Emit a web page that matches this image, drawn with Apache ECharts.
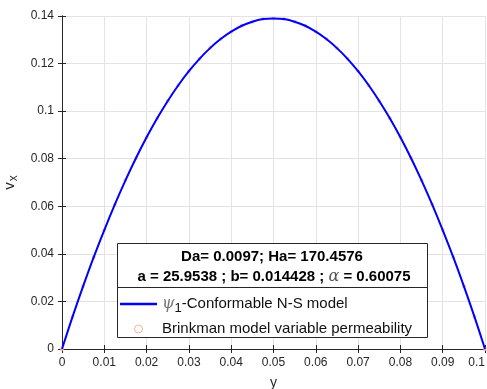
<!DOCTYPE html>
<html>
<head>
<meta charset="utf-8">
<script src="https://cdn.jsdelivr.net/npm/echarts@6/dist/echarts.min.js"></script>
<style>html,body{margin:0;padding:0;background:#fff}#c{width:487px;height:389px}</style>
</head>
<body>
<div id="c"></div>
<script>
var yPos = [0, 0.0025, 0.005, 0.0075, 0.01, 0.0125, 0.015, 0.0175, 0.02, 0.0225, 0.025, 0.0275, 0.03, 0.0325, 0.035, 0.0375, 0.04, 0.0425, 0.045, 0.0475, 0.05,
            0.0525, 0.055, 0.0575, 0.06, 0.0625, 0.065, 0.0675, 0.07, 0.0725, 0.075, 0.0775, 0.08, 0.0825, 0.085, 0.0875, 0.09, 0.0925, 0.095, 0.0975, 0.1];
var vxConformable = [0, 0.0136, 0.0264, 0.0386, 0.0500, 0.0608, 0.0709, 0.0803, 0.0890, 0.0970, 0.1043, 0.1109, 0.1168, 0.1220, 0.1265, 0.1303, 0.1334, 0.1359, 0.1376, 0.1387, 0.1390,
                     0.1387, 0.1376, 0.1359, 0.1334, 0.1303, 0.1265, 0.1220, 0.1168, 0.1109, 0.1043, 0.0970, 0.0890, 0.0803, 0.0709, 0.0608, 0.0500, 0.0386, 0.0264, 0.0136, 0];
var vxBrinkman = [0, 0.0136, 0.0264, 0.0386, 0.0500, 0.0608, 0.0709, 0.0803, 0.0890, 0.0970, 0.1043, 0.1109, 0.1168, 0.1220, 0.1265, 0.1303, 0.1334, 0.1359, 0.1376, 0.1387, 0.1390,
                  0.1387, 0.1376, 0.1359, 0.1334, 0.1303, 0.1265, 0.1220, 0.1168, 0.1109, 0.1043, 0.0970, 0.0890, 0.0803, 0.0709, 0.0608, 0.0500, 0.0386, 0.0264, 0.0136, 0];
var xTicks = ['0', '0.01', '0.02', '0.03', '0.04', '0.05', '0.06', '0.07', '0.08', '0.09', '0.1'];
var yTicks = ['0', '0.02', '0.04', '0.06', '0.08', '0.1', '0.12', '0.14'];
var seriesNames = ['psi1', 'Brinkman model variable permeability'];
var infoLine1 = 'Da= 0.0097; Ha= 170.4576';
var infoLine2a = 'a = 25.9538 ; b= 0.014428 ; ';
var infoLine2b = 'α';
var infoLine2c = ' = 0.60075';

function pair(xs, ys) { return xs.map(function (x, i) { return [x, ys[i]]; }); }
function fmt(list, step) { return function (v) { var i = Math.round(v / step); return list[i] !== undefined ? list[i] : ''; }; }

var axisColor = '#262626';
var chart = echarts.init(document.getElementById('c'), null, { renderer: 'canvas' });
var baseX = {
  type: 'value', min: 0, max: 0.1, interval: 0.01,
  axisLine: { show: true, lineStyle: { color: axisColor, width: 1 } },
  axisTick: { show: true, inside: true, length: 4, lineStyle: { color: axisColor } },
  splitLine: { show: false }
};
var baseY = {
  type: 'value', min: 0, max: 0.14, interval: 0.02,
  axisLine: { show: true, lineStyle: { color: axisColor, width: 1 } },
  axisTick: { show: true, inside: true, length: 4, lineStyle: { color: axisColor } },
  splitLine: { show: false }
};
var option = {
  animation: false,
  backgroundColor: '#fff',
  grid: { left: 62, top: 16, right: 2, bottom: 40, containLabel: false, outerBoundsMode: 'none' },
  xAxis: [
    Object.assign({}, baseX, {
      position: 'bottom',
      name: 'y', nameLocation: 'middle', nameGap: 27,
      nameTextStyle: { color: axisColor, fontSize: 14, fontFamily: 'Liberation Sans' },
      axisLabel: { color: axisColor, fontSize: 12, fontFamily: 'Liberation Sans', margin: 8, alignMaxLabel: 'right', formatter: fmt(xTicks, 0.01) },
      splitLine: { show: true, lineStyle: { color: '#e3e3e3', width: 1 } }
    }),
    Object.assign({}, baseX, { position: 'top', axisLabel: { show: false } })
  ],
  yAxis: [
    Object.assign({}, baseY, {
      position: 'left',
      name: '{v|v}{s|x}', nameLocation: 'middle', nameGap: 37, nameRotate: 90,
      nameTextStyle: { color: axisColor, fontFamily: 'Liberation Sans',
        rich: { v: { fontSize: 15, color: axisColor, fontFamily: 'Liberation Sans' }, s: { fontSize: 12, color: axisColor, fontFamily: 'Liberation Sans', verticalAlign: 'bottom', padding: [8, 0, 0, 1] } } },
      axisLabel: { color: axisColor, fontSize: 12, fontFamily: 'Liberation Sans', margin: 8, formatter: fmt(yTicks, 0.02) },
      splitLine: { show: true, lineStyle: { color: '#e3e3e3', width: 1 } }
    }),
    Object.assign({}, baseY, { position: 'right', axisLabel: { show: false } })
  ],
  legend: {
    orient: 'vertical', left: 120, top: 296, z: 80,
    itemWidth: 37, itemHeight: 8, itemGap: 7,
    padding: 0,
    data: [
      { name: seriesNames[0], icon: 'path://M0,0 L37,0 L37,2.6 L0,2.6 Z', itemStyle: { color: '#0000ff' } },
      { name: seriesNames[1], icon: 'circle', itemStyle: { color: 'rgba(0,0,0,0)', borderColor: '#f2a07a', borderWidth: 1 } }
    ],
    formatter: function (n) {
      if (n === 'psi1') return '{p|ψ}{s|1}-Conformable N-S model';
      return n;
    },
    textStyle: {
      fontSize: 15, color: '#111', fontFamily: 'Liberation Sans',
      rich: {
        p: { fontSize: 16, fontStyle: 'italic', fontFamily: 'DejaVu Serif', color: '#777' },
        s: { fontSize: 13, color: '#111', fontFamily: 'Liberation Sans', verticalAlign: 'bottom', padding: [8, 0, 0, 0] }
      }
    }
  },
  graphic: [
    { type: 'rect', z: 50, shape: { x: 117.5, y: 243.5, width: 310, height: 94 }, style: { fill: '#fff', stroke: '#262626', lineWidth: 1 } },
    { type: 'line', z: 51, shape: { x1: 117.5, y1: 287.5, x2: 427.5, y2: 287.5 }, style: { stroke: '#262626', lineWidth: 1 } },
    { type: 'text', z: 52, x: 272, y: 257, style: { text: infoLine1, align: 'center', verticalAlign: 'middle', fontSize: 15, fontWeight: 'bold', fontFamily: 'Liberation Sans', fill: '#000' } },
    { type: 'text', z: 52, x: 274, y: 277, style: { text: '{b|' + infoLine2a + '}{g|' + infoLine2b + '}{b|' + infoLine2c + '}', align: 'center', verticalAlign: 'middle',
        rich: { b: { fontSize: 15, fontWeight: 'bold', fontFamily: 'Liberation Sans', fill: '#000' }, g: { fontSize: 16, fontStyle: 'italic', fontFamily: 'DejaVu Serif', fill: '#555' } } } }
  ],
  series: [
    { name: seriesNames[1], type: 'scatter', xAxisIndex: 0, yAxisIndex: 0, data: pair(yPos, vxBrinkman), symbol: 'emptyCircle', symbolSize: 2, itemStyle: { color: '#f6b89a', borderColor: '#f6b89a', borderWidth: 1 }, z: 2 },
    { name: seriesNames[0], type: 'line', xAxisIndex: 0, yAxisIndex: 0, data: pair(yPos, vxConformable), smooth: 0.3, symbol: 'none', lineStyle: { color: '#0000ff', width: 2 }, itemStyle: { color: '#0000ff' }, z: 3 }
  ]
};
chart.setOption(option);
</script>
</body>
</html>
